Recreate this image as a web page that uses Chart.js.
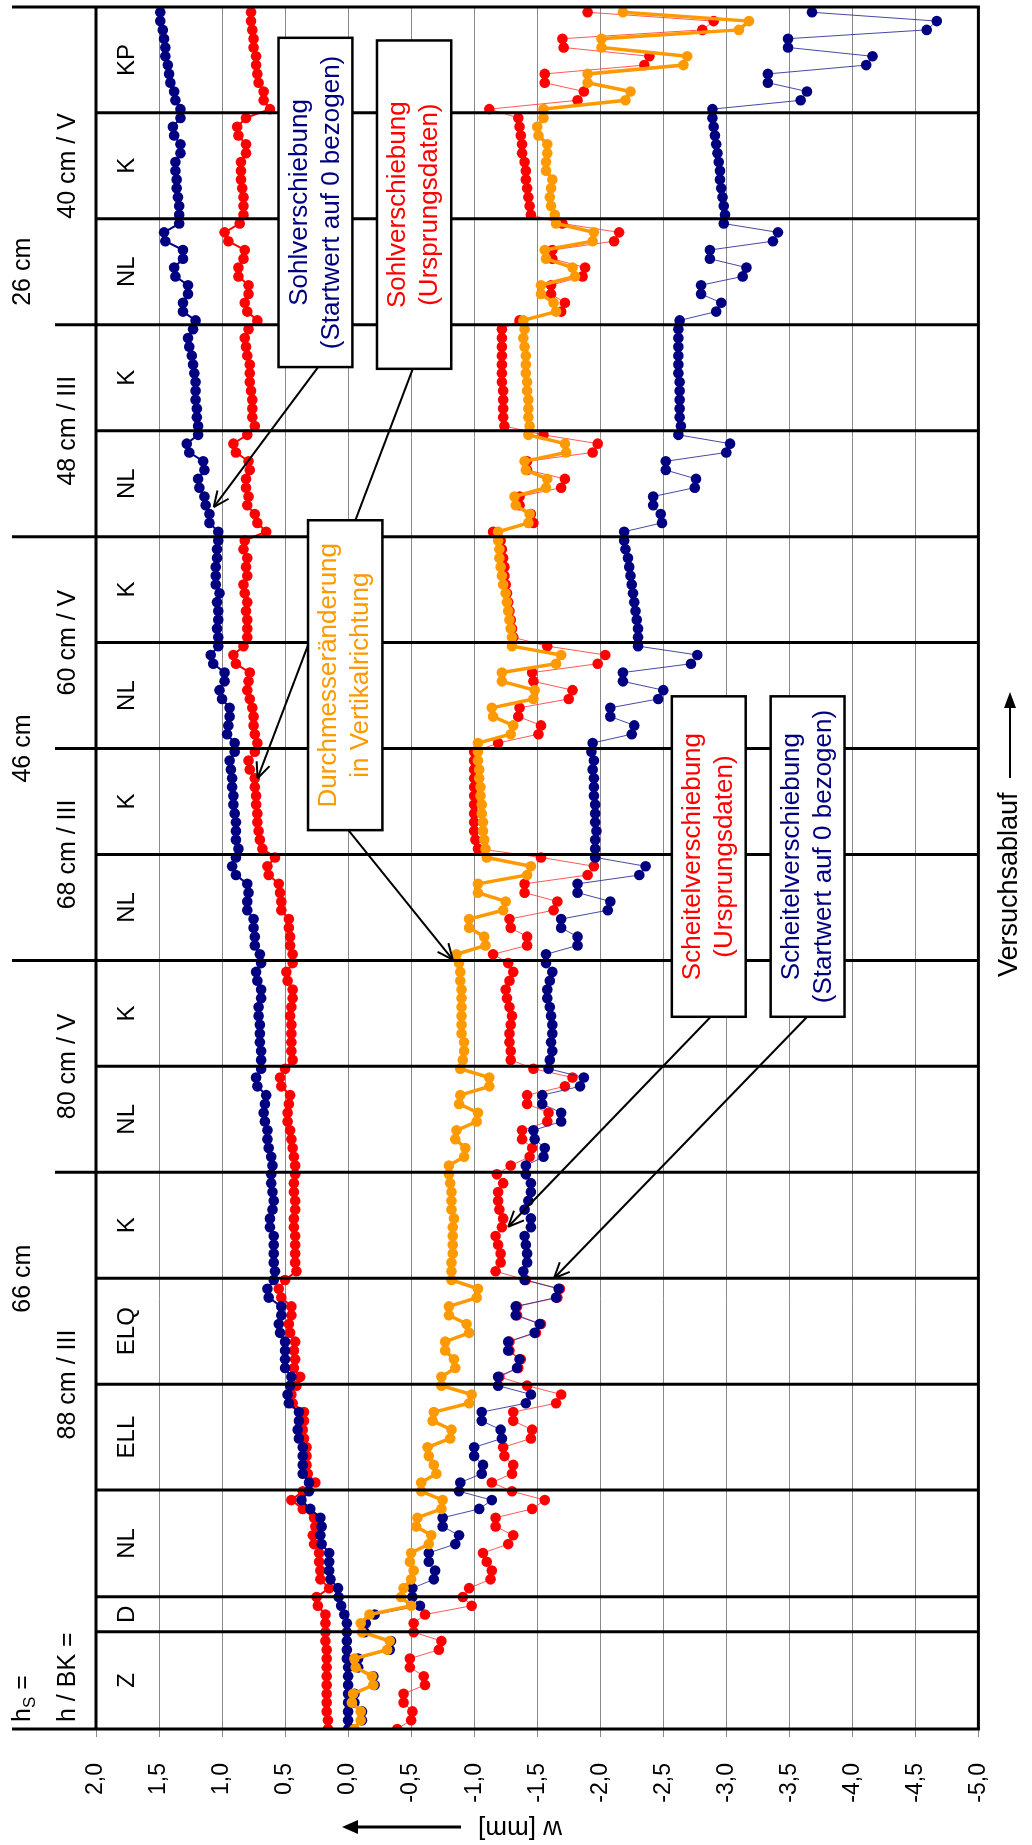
<!DOCTYPE html>
<html><head><meta charset="utf-8">
<script src="https://cdn.jsdelivr.net/npm/chart.js@4/dist/chart.umd.min.js"></script>
<style>html,body{margin:0;padding:0;background:#fff;}canvas{display:block;}</style>
</head><body>
<canvas id="c" width="1032" height="1845"></canvas>
<script>
// ---- measured values, one per reading (index = Versuchsablauf step) ----
const sohlStart = [ // Sohlverschiebung (Startwert auf 0 bezogen)
 0.00,0.00,0.00,0.00,0.00,0.00,0.00,0.00,0.01,0.01,0.01,0.01,
 0.01,0.03,0.055,0.075,
 0.08,0.14,0.15,0.15,0.15,0.21,0.22,0.21,0.22,0.30,0.37,0.31,
 0.31,0.36,0.36,0.36,0.36,0.39,0.40,0.39,0.39,0.47,0.48,0.46,
 0.45,0.50,0.50,0.50,0.50,0.54,0.55,0.53,0.53,0.63,0.64,0.59,
 0.58,0.59,0.59,0.59,0.59,0.62,0.62,0.60,0.59,0.60,0.61,0.61,
 0.60,0.61,0.63,0.64,0.64,0.66,0.67,0.66,0.65,0.72,0.73,0.69,
 0.69,0.69,0.70,0.70,0.70,0.71,0.71,0.69,0.69,0.72,0.73,0.69,
 0.70,0.74,0.74,0.75,0.75,0.80,0.80,0.79,0.80,0.89,0.92,0.89,
 0.87,0.89,0.89,0.89,0.90,0.91,0.91,0.92,0.92,0.93,0.94,0.90,
 0.90,0.96,0.95,0.94,0.94,1.00,1.02,0.98,0.98,1.07,1.09,1.03,
 1.03,1.04,1.03,1.03,1.04,1.02,1.05,1.05,1.05,1.04,1.04,1.03,
 1.03,1.10,1.10,1.13,1.14,1.18,1.19,1.14,1.15,1.26,1.28,1.19,
 1.19,1.20,1.20,1.21,1.21,1.21,1.22,1.23,1.24,1.26,1.27,1.23,
 1.21,1.31,1.31,1.27,1.27,1.37,1.38,1.31,1.31,1.45,1.46,1.34,
 1.34,1.34,1.35,1.36,1.36,1.37,1.37,1.33,1.33,1.38,1.39,1.33,
 1.33,1.37,1.38,1.41,1.42,1.43,1.45,1.45,1.46,1.47,1.49,1.49
];
const sohlRaw = [ // Sohlverschiebung (Ursprungsdaten)
 0.16,0.16,0.17,0.17,0.17,0.17,0.17,0.17,0.17,0.17,0.18,0.18,
 0.18,0.18,0.24,0.25,
 0.15,0.22,0.22,0.23,0.23,0.27,0.28,0.26,0.27,0.36,0.45,0.36,
 0.26,0.32,0.33,0.33,0.33,0.35,0.36,0.35,0.35,0.44,0.45,0.41,
 0.38,0.43,0.42,0.43,0.42,0.46,0.47,0.45,0.45,0.53,0.55,0.50,
 0.41,0.42,0.42,0.42,0.42,0.43,0.43,0.42,0.42,0.43,0.43,0.42,
 0.42,0.43,0.44,0.45,0.46,0.48,0.48,0.47,0.46,0.53,0.54,0.50,
 0.44,0.45,0.45,0.45,0.45,0.46,0.45,0.44,0.44,0.48,0.49,0.44,
 0.44,0.46,0.46,0.47,0.47,0.53,0.53,0.54,0.55,0.63,0.64,0.58,
 0.68,0.70,0.71,0.72,0.72,0.73,0.73,0.74,0.74,0.78,0.79,0.74,
 0.72,0.74,0.75,0.75,0.76,0.78,0.80,0.79,0.78,0.89,0.91,0.83,
 0.80,0.80,0.80,0.81,0.80,0.82,0.83,0.80,0.81,0.80,0.83,0.82,
 0.65,0.72,0.74,0.80,0.79,0.81,0.81,0.78,0.79,0.89,0.91,0.80,
 0.74,0.76,0.76,0.76,0.77,0.78,0.78,0.78,0.80,0.81,0.82,0.79,
 0.72,0.80,0.82,0.79,0.79,0.87,0.87,0.83,0.82,0.95,0.98,0.86,
 0.83,0.83,0.83,0.84,0.85,0.85,0.85,0.81,0.81,0.87,0.88,0.81,
 0.62,0.67,0.67,0.71,0.72,0.73,0.73,0.75,0.75,0.76,0.77,0.77
];
const durchmesser = [ // Durchmesseränderung in Vertikalrichtung
 -0.05,-0.10,-0.10,-0.03,-0.04,-0.20,-0.19,-0.06,-0.05,-0.31,-0.33,-0.11,
 -0.10,-0.17,-0.50,-0.42,
 -0.44,-0.50,-0.52,-0.49,-0.50,-0.64,-0.66,-0.54,-0.55,-0.74,-0.75,-0.58,
 -0.58,-0.70,-0.68,-0.64,-0.63,-0.81,-0.82,-0.67,-0.68,-0.96,-0.98,-0.74,
 -0.74,-0.85,-0.84,-0.77,-0.77,-0.96,-0.94,-0.80,-0.80,-1.02,-1.03,-0.82,
 -0.82,-0.82,-0.83,-0.83,-0.83,-0.83,-0.84,-0.82,-0.82,-0.82,-0.81,-0.80,
 -0.80,-0.92,-0.93,-0.85,-0.86,-1.02,-1.03,-0.88,-0.89,-1.12,-1.12,-0.89,
 -0.91,-0.92,-0.92,-0.90,-0.90,-0.90,-0.90,-0.90,-0.90,-0.89,-0.89,-0.88,
 -0.86,-1.09,-1.08,-0.96,-0.96,-1.23,-1.25,-1.03,-1.03,-1.42,-1.45,-1.10,
 -1.09,-1.08,-1.07,-1.07,-1.06,-1.06,-1.05,-1.05,-1.04,-1.04,-1.03,-1.03,
 -1.03,-1.29,-1.31,-1.15,-1.14,-1.47,-1.48,-1.22,-1.22,-1.65,-1.69,-1.30,
 -1.30,-1.29,-1.28,-1.27,-1.26,-1.25,-1.23,-1.22,-1.21,-1.20,-1.20,-1.19,
 -1.19,-1.43,-1.44,-1.33,-1.32,-1.57,-1.58,-1.41,-1.40,-1.73,-1.72,-1.43,
 -1.44,-1.43,-1.43,-1.43,-1.42,-1.42,-1.41,-1.41,-1.41,-1.40,-1.39,-1.40,
 -1.39,-1.65,-1.63,-1.53,-1.53,-1.80,-1.78,-1.57,-1.56,-1.94,-1.95,-1.65,
 -1.64,-1.61,-1.60,-1.61,-1.62,-1.57,-1.57,-1.58,-1.58,-1.51,-1.50,-1.55,
 -1.55,-2.20,-2.24,-1.90,-1.90,-2.66,-2.69,-2.01,-2.01,-3.10,-3.18,-2.18
];
const scheitelRaw = [ // Scheitelverschiebung (Ursprungsdaten)
 -0.39,-0.50,-0.51,-0.44,-0.44,-0.61,-0.60,-0.49,-0.49,-0.72,-0.74,-0.52,
 -0.52,-0.61,-0.98,-0.91,
 -0.96,-1.13,-1.14,-1.10,-1.07,-1.27,-1.31,-1.17,-1.17,-1.46,-1.56,-1.30,
 -1.14,-1.30,-1.31,-1.24,-1.23,-1.45,-1.46,-1.31,-1.31,-1.65,-1.69,-1.42,
 -1.20,-1.35,-1.37,-1.28,-1.28,-1.49,-1.53,-1.34,-1.34,-1.66,-1.68,-1.41,
 -1.17,-1.21,-1.21,-1.19,-1.17,-1.22,-1.23,-1.20,-1.19,-1.19,-1.23,-1.18,
 -1.29,-1.44,-1.46,-1.38,-1.38,-1.58,-1.59,-1.42,-1.42,-1.72,-1.78,-1.47,
 -1.29,-1.29,-1.28,-1.28,-1.29,-1.30,-1.28,-1.26,-1.25,-1.28,-1.31,-1.27,
 -1.15,-1.42,-1.42,-1.29,-1.28,-1.63,-1.66,-1.40,-1.40,-1.90,-1.95,-1.53,
 -1.03,-1.01,-1.00,-1.00,-1.00,-1.00,-1.00,-1.00,-1.00,-1.00,-1.00,-1.00,
 -1.19,-1.51,-1.53,-1.35,-1.36,-1.75,-1.78,-1.47,-1.46,-1.98,-2.04,-1.58,
 -1.31,-1.30,-1.29,-1.28,-1.27,-1.26,-1.25,-1.24,-1.24,-1.23,-1.22,-1.21,
 -1.15,-1.47,-1.45,-1.36,-1.36,-1.69,-1.72,-1.42,-1.42,-1.94,-1.98,-1.55,
 -1.24,-1.23,-1.23,-1.23,-1.23,-1.22,-1.22,-1.22,-1.22,-1.22,-1.22,-1.22,
 -1.36,-1.69,-1.72,-1.61,-1.61,-1.86,-1.88,-1.62,-1.62,-2.11,-2.15,-1.70,
 -1.45,-1.44,-1.43,-1.42,-1.41,-1.41,-1.40,-1.38,-1.38,-1.37,-1.36,-1.35,
 -1.12,-1.82,-1.87,-1.56,-1.56,-2.35,-2.39,-1.71,-1.70,-2.81,-2.90,-1.90
];
const scheitelStart = [ // Scheitelverschiebung (Startwert auf 0 bezogen)
 -0.02,-0.11,-0.11,-0.05,-0.05,-0.21,-0.20,-0.08,-0.08,-0.33,-0.34,-0.13,
 -0.14,-0.21,-0.57,-0.51,
 -0.51,-0.68,-0.69,-0.64,-0.64,-0.85,-0.88,-0.75,-0.75,-1.04,-1.14,-0.88,
 -0.89,-1.06,-1.07,-1.00,-1.00,-1.22,-1.21,-1.06,-1.06,-1.41,-1.45,-1.19,
 -1.19,-1.34,-1.36,-1.27,-1.27,-1.48,-1.52,-1.33,-1.33,-1.65,-1.67,-1.40,
 -1.39,-1.42,-1.42,-1.41,-1.40,-1.45,-1.45,-1.40,-1.43,-1.45,-1.45,-1.41,
 -1.41,-1.55,-1.56,-1.48,-1.47,-1.69,-1.69,-1.54,-1.54,-1.84,-1.87,-1.59,
 -1.60,-1.62,-1.61,-1.62,-1.62,-1.61,-1.60,-1.58,-1.58,-1.60,-1.62,-1.57,
 -1.57,-1.82,-1.82,-1.69,-1.69,-2.06,-2.08,-1.82,-1.82,-2.31,-2.36,-1.96,
 -1.96,-1.96,-1.97,-1.96,-1.96,-1.96,-1.95,-1.95,-1.95,-1.94,-1.95,-1.93,
 -1.94,-2.25,-2.27,-2.08,-2.08,-2.46,-2.50,-2.18,-2.18,-2.72,-2.77,-2.30,
 -2.30,-2.30,-2.29,-2.28,-2.27,-2.26,-2.25,-2.24,-2.23,-2.22,-2.20,-2.19,
 -2.19,-2.49,-2.48,-2.42,-2.42,-2.75,-2.76,-2.52,-2.52,-3.00,-3.03,-2.62,
 -2.64,-2.63,-2.63,-2.63,-2.63,-2.63,-2.62,-2.62,-2.62,-2.62,-2.62,-2.62,
 -2.63,-2.92,-2.96,-2.80,-2.80,-3.13,-3.16,-2.87,-2.87,-3.37,-3.41,-2.98,
 -2.99,-2.98,-2.97,-2.96,-2.95,-2.95,-2.94,-2.93,-2.92,-2.91,-2.90,-2.89,
 -2.89,-3.59,-3.64,-3.33,-3.33,-4.11,-4.16,-3.49,-3.49,-4.59,-4.67,-3.68
];
// phases along the test sequence (index units)
const phaseLabels = ['Z','D','NL','ELL','ELQ','K','NL','K','NL','K','NL','K','NL','K','NL','K','KP'];
const phaseBounds = [0,11.05,15.02,27.14,39.17,51.2,63.24,75.27,87.3,99.34,111.37,123.41,135.44,147.48,159.51,171.55,183.58,195.6];
const bkLabels = ['88 cm / III','80 cm / V','68 cm / III','60 cm / V','48 cm / III','40 cm / V'];
const bkBounds = [15.02,63.24,87.3,111.37,135.44,159.51,195.6];
const hsLabels = ['66 cm','46 cm','26 cm'];
const hsBounds = [15.02,87.3,135.44,195.6];
const wMin = -5, wMax = 2, wStep = 0.5;

// annotation callouts, anchored in data units (w value, step index)
const notes = [
 {lines:['Sohlverschiebung','(Startwert auf 0 bezogen)'], color:'#000080', box:[0.552,-0.034,192.1,154.7], from:[0.238,154.7], to:[1.066,138.8]},
 {lines:['Sohlverschiebung','(Ursprungsdaten)'], color:'#FF0000', box:[-0.229,-0.818,191.8,154.5], from:[-0.513,154.5], to:[0.718,108.0]},
 {lines:['Durchmesseränderung','in Vertikalrichtung'], color:'#FF9900', box:[0.318,-0.272,137.3,102.1], from:[-0.002,102.1], to:[-0.83,87.4]},
 {lines:['Scheitelverschiebung','(Ursprungsdaten)'], color:'#FF0000', box:[-2.568,-3.154,117.3,80.9], from:[-2.877,80.9], to:[-1.27,57.05]},
 {lines:['Scheitelverschiebung','(Startwert auf 0 bezogen)'], color:'#000080', box:[-3.352,-3.938,117.3,80.9], from:[-3.642,80.9], to:[-1.633,51.2]}
];

const FONT = "'Liberation Sans', Arial, Helvetica, sans-serif";
Chart.defaults.font.family = FONT;

function rotText(ctx, txt, x, y, align, size, color){
  ctx.save(); ctx.translate(x,y); ctx.rotate(-Math.PI/2);
  ctx.font = size+'px '+FONT; ctx.fillStyle = color||'#000';
  ctx.textAlign = align; ctx.textBaseline = 'middle';
  ctx.fillText(txt,0,0); ctx.restore();
}
function seg(ctx,x1,y1,x2,y2){ctx.beginPath();ctx.moveTo(x1,y1);ctx.lineTo(x2,y2);ctx.stroke();}

const overlay = {
  id:'overlay',
  afterDatasetsDraw(chart){
    const {ctx, chartArea:a, scales:{x,y}} = chart;
    const X = v => x.getPixelForValue(v), Y = i => y.getPixelForValue(i);
    ctx.save();
    ctx.strokeStyle = '#000'; ctx.lineWidth = 3; ctx.lineCap = 'butt';
    const hsIn = hsBounds.slice(1,-1), bkIn = bkBounds.slice(1,-1);
    phaseBounds.slice(1,-1).forEach(b=>{
      let x0 = a.left;
      if (hsIn.includes(b)) x0 = 12; else if (bkIn.includes(b)) x0 = 55;
      seg(ctx, x0, Y(b), a.right, Y(b));
    });
    seg(ctx, 12, a.top, a.right+1.5, a.top);
    seg(ctx, 12, a.bottom, a.right+1.5, a.bottom);
    seg(ctx, a.left, a.top, a.left, a.bottom);
    seg(ctx, a.right, a.top, a.right, a.bottom);

    // phase labels
    phaseLabels.forEach((t,k)=>{
      const yc = (Y(phaseBounds[k])+Y(phaseBounds[k+1]))/2;
      rotText(ctx, t, 127, yc, 'center', 24);
    });
    bkLabels.forEach((t,k)=>{
      const yc = (Y(bkBounds[k])+Y(bkBounds[k+1]))/2;
      rotText(ctx, t, 68, yc, 'center', 25);
    });
    hsLabels.forEach((t,k)=>{
      const yc = (Y(hsBounds[k])+Y(hsBounds[k+1]))/2;
      rotText(ctx, t, 23, yc, 'center', 25);
    });
    // header labels "h_S =" and "h / BK ="
    ctx.save(); ctx.translate(23, a.bottom-7); ctx.rotate(-Math.PI/2);
    ctx.fillStyle='#000'; ctx.textAlign='left'; ctx.textBaseline='middle';
    ctx.font='25px '+FONT; ctx.fillText('h',0,0); let w = ctx.measureText('h').width;
    ctx.font='17px '+FONT; ctx.fillText('S',w,7); w += ctx.measureText('S').width;
    ctx.font='25px '+FONT; ctx.fillText(' =',w,0);
    ctx.restore();
    rotText(ctx, 'h / BK =', 68, a.bottom-7, 'left', 25);

    // callout boxes and arrows
    notes.forEach(n=>{
      const x1=X(n.box[0]), x2=X(n.box[1]), y1=Y(n.box[2]), y2=Y(n.box[3]);
      ctx.fillStyle='#fff'; ctx.fillRect(x1,y1,x2-x1,y2-y1);
      ctx.lineWidth=2.5; ctx.strokeStyle='#000'; ctx.strokeRect(x1,y1,x2-x1,y2-y1);
      const cx=(x1+x2)/2, cy=(y1+y2)/2;
      ctx.save(); ctx.translate(cx,cy); ctx.rotate(-Math.PI/2);
      ctx.font='26px '+FONT; ctx.fillStyle=n.color; ctx.textAlign='center'; ctx.textBaseline='middle';
      n.lines.forEach((l,k)=>ctx.fillText(l,0,(k-(n.lines.length-1)/2)*32));
      ctx.restore();
      const fx=X(n.from[0]), fy=Y(n.from[1]), tx=X(n.to[0]), ty=Y(n.to[1]);
      ctx.lineWidth=2; ctx.strokeStyle='#000';
      seg(ctx,fx,fy,tx,ty);
      const ang=Math.atan2(ty-fy,tx-fx), L=17, sp=0.42;
      seg(ctx,tx,ty,tx-L*Math.cos(ang-sp),ty-L*Math.sin(ang-sp));
      seg(ctx,tx,ty,tx-L*Math.cos(ang+sp),ty-L*Math.sin(ang+sp));
    });

    // axis title "w [mm]" (upside down) with arrow
    ctx.save(); ctx.translate(520,1828); ctx.rotate(Math.PI);
    ctx.font='26px '+FONT; ctx.fillStyle='#000'; ctx.textAlign='center'; ctx.textBaseline='middle';
    ctx.fillText('w [mm]',0,0); ctx.restore();
    ctx.lineWidth=3; seg(ctx,461,1827,354,1827);
    ctx.beginPath(); ctx.moveTo(342,1827); ctx.lineTo(358,1820); ctx.lineTo(358,1834); ctx.closePath(); ctx.fillStyle='#000'; ctx.fill();

    // Versuchsablauf arrow
    rotText(ctx,'Versuchsablauf',1010,977,'left',27);
    ctx.lineWidth=2; seg(ctx,1010,778,1010,706);
    ctx.beginPath(); ctx.moveTo(1010,692); ctx.lineTo(1004,708); ctx.lineTo(1016,708); ctx.closePath(); ctx.fill();
    ctx.restore();
  }
};

function mk(label, arr, ptColor, lineColor, width){
  return {label, data: arr.map((v,i)=>({x:v,y:i})), showLine:true, tension:0,
    borderColor: lineColor, borderWidth: width, pointRadius:5.3, pointHoverRadius:5.3,
    pointBackgroundColor: ptColor, pointBorderColor: ptColor, pointBorderWidth:0};
}

new Chart(document.getElementById('c').getContext('2d'), {
  type:'scatter',
  data:{datasets:[
    mk('Durchmesseränderung in Vertikalrichtung', durchmesser, '#FF9900', '#FF9900', 3.5),
    mk('Scheitelverschiebung (Startwert auf 0 bezogen)', scheitelStart, '#000080', 'rgba(40,40,150,0.85)', 1),
    mk('Sohlverschiebung (Startwert auf 0 bezogen)', sohlStart, '#000080', '#000080', 2),
    mk('Scheitelverschiebung (Ursprungsdaten)', scheitelRaw, '#FF0000', 'rgba(255,60,60,0.85)', 1),
    mk('Sohlverschiebung (Ursprungsdaten)', sohlRaw, '#FF0000', '#FF0000', 2)
  ]},
  options:{
    responsive:false, animation:false, devicePixelRatio:1,
    layout:{padding:{left:96,right:52,top:7,bottom:0}},
    plugins:{legend:{display:false}, tooltip:{enabled:false}},
    scales:{
      x:{type:'linear', reverse:true, min:wMin, max:wMax, position:'bottom',
        afterFit(s){ s.height = 116; },
        ticks:{stepSize:wStep, minRotation:90, maxRotation:90, padding:26, color:'#000',
          font:{size:23}, callback:v=>Number(v).toFixed(1).replace('.',',')},
        grid:{color:'#8a8a8a', lineWidth:1, tickLength:8, drawTicks:true},
        border:{display:false}},
      y:{type:'linear', min:0, max:195.6, display:false}
    }
  },
  plugins:[overlay]
});
</script>
</body></html>
